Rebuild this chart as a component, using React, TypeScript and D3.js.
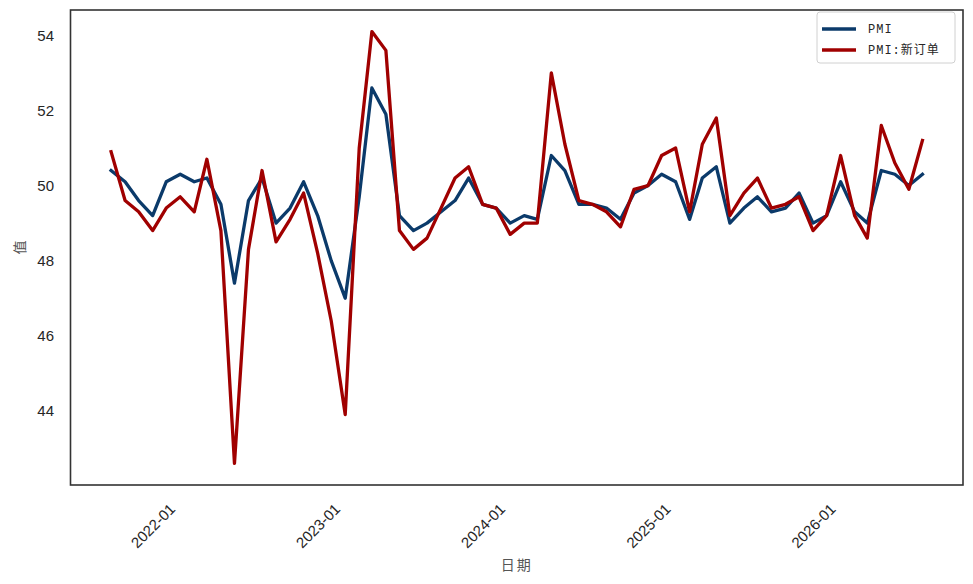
import React from 'react';
import * as d3 from 'd3';

// monthly readings, first month below
const startMonth = '2021-08';
const pmi = [
  50.4, 50.1, 49.6, 49.2, 50.1, 50.3, 50.1, 50.2, 49.5, 47.4,
  49.6, 50.2, 49.0, 49.4, 50.1, 49.2, 48.0, 47.0, 49.7, 52.6,
  51.9, 49.2, 48.8, 49.0, 49.3, 49.6, 50.2, 49.5, 49.4, 49.0,
  49.2, 49.1, 50.8, 50.4, 49.5, 49.5, 49.4, 49.1, 49.8, 50.0,
  50.3, 50.1, 49.1, 50.2, 50.5, 49.0, 49.4, 49.7, 49.3, 49.4,
  49.8, 49.0, 49.2, 50.1, 49.3, 49.0, 50.4, 50.3, 50.0, 50.3,
];
const pmiNewOrders = [
  50.9, 49.6, 49.3, 48.8, 49.4, 49.7, 49.3, 50.7, 48.8, 42.6,
  48.3, 50.4, 48.5, 49.1, 49.8, 48.2, 46.4, 43.9, 51.0, 54.1,
  53.6, 48.8, 48.3, 48.6, 49.4, 50.2, 50.5, 49.5, 49.4, 48.7,
  49.0, 49.0, 53.0, 51.1, 49.6, 49.5, 49.3, 48.9, 49.9, 50.0,
  50.8, 51.0, 49.3, 51.1, 51.8, 49.2, 49.8, 50.2, 49.4, 49.5,
  49.7, 48.8, 49.2, 50.8, 49.2, 48.6, 51.6, 50.6, 49.9, 51.2,
];
const seriesNames = ['PMI', 'PMI:新订单'];
const seriesColors = ['#0b3a6a', '#a00000'];
const yTicks = [44, 46, 48, 50, 52, 54];

const W = 973;
const H = 584;
const frame = { left: 70.5, right: 963, top: 10, bottom: 485 };

const App: React.FC = () => {
  const start = d3.timeParse('%Y-%m')(startMonth)!;
  const dates = d3.timeMonth.range(start, d3.timeMonth.offset(start, pmi.length));

  // matplotlib style 5% margins
  const t0 = +dates[0];
  const t1 = +dates[dates.length - 1];
  const tPad = (t1 - t0) * 0.05;
  const x = d3.scaleTime()
    .domain([new Date(t0 - tPad), new Date(t1 + tPad)])
    .range([frame.left, frame.right]);

  const all = pmi.concat(pmiNewOrders);
  const yMin = d3.min(all)!;
  const yMax = d3.max(all)!;
  const yPad = (yMax - yMin) * 0.05;
  const y = d3.scaleLinear()
    .domain([yMin - yPad, yMax + yPad])
    .range([frame.bottom, frame.top]);

  const line = d3.line<number>()
    .x((_, i) => x(dates[i]))
    .y(d => y(d));

  const xTicks = d3.timeYear.range(d3.timeYear.ceil(dates[0]), dates[dates.length - 1]);
  const fmt = d3.timeFormat('%Y-%m');
  const series = [pmi, pmiNewOrders];

  const tickFont = '"Liberation Sans", Arial, sans-serif';
  const cjkFont = '"Noto Sans CJK SC", sans-serif';
  const legendFont = '"Liberation Mono", "Noto Sans CJK SC", monospace';

  return (
    <svg width={W} height={H} style={{ display: 'block', background: '#fff' }}>
      <style>{'body{margin:0}'}</style>

      {series.map((s, i) => (
        <path key={i} d={line(s) ?? ''} fill="none" stroke={seriesColors[i]}
          strokeWidth={3.3} strokeLinejoin="round" strokeLinecap="square" />
      ))}

      <rect x={frame.left} y={frame.top} width={frame.right - frame.left}
        height={frame.bottom - frame.top} fill="none" stroke="#333" strokeWidth={1.6} />

      {yTicks.map(t => (
        <text key={t} x={54} y={y(t)} dy="0.35em" textAnchor="end"
          fontFamily={tickFont} fontSize={15} fill="#262626">{t}</text>
      ))}

      {xTicks.map(t => (
        <text key={+t} transform={`translate(${x(t) - 4},${510}) rotate(-45)`} textAnchor="end"
          fontFamily={tickFont} fontSize={15} fill="#262626">{fmt(t)}</text>
      ))}

      <text x={(frame.left + frame.right) / 2} y={570} textAnchor="middle" letterSpacing={2}
        fontFamily={cjkFont} fontSize={14} fill="#555">日期</text>
      <text transform={`translate(25,${(frame.top + frame.bottom) / 2}) rotate(-90)`} textAnchor="middle"
        fontFamily={cjkFont} fontSize={14} fill="#555">值</text>

      <g>
        <rect x={817} y={12} width={138} height={51} rx={3} fill="#fff" fillOpacity={0.85} stroke="#d0d0d0" />
        {seriesNames.map((n, i) => (
          <g key={n} transform={`translate(0,${29 + i * 21})`}>
            <line x1={822} x2={856} y1={0} y2={0} stroke={seriesColors[i]} strokeWidth={3.3} />
            <text x={868} y={0} dy="0.35em" fontFamily={legendFont} fontSize={12} letterSpacing={1}
              fill="#262626">{n}</text>
          </g>
        ))}
      </g>
    </svg>
  );
};

export default App;
